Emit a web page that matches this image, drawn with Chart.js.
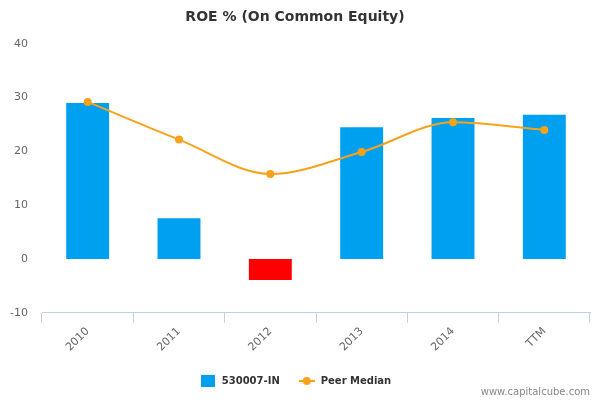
<!DOCTYPE html>
<html>
<head>
<meta charset="utf-8">
<script src="https://cdn.jsdelivr.net/npm/chart.js@4/dist/chart.umd.min.js"></script>
<style>
html,body{margin:0;padding:0;background:#fff;}
#wrap{position:relative;width:600px;height:400px;}
</style>
</head>
<body>
<div id="wrap"><canvas id="c" width="600" height="400"></canvas></div>
<script>
const categories = ['2010', '2011', '2012', '2013', '2014', 'TTM'];
const companyValues = [29.0, 7.6, -3.9, 24.5, 26.2, 26.8];
const peerMedian = [29.2, 22.2, 15.8, 19.9, 25.4, 24.0];
const yTicks = [-10, 0, 10, 20, 30, 40];

const blue = '#00a0f0';
const red = '#ff0000';
const orange = '#f8a21c';

// legend symbol for line series
const lineSym = document.createElement('canvas');
lineSym.width = 16; lineSym.height = 10;
(function(){
  const g = lineSym.getContext('2d');
  g.strokeStyle = orange; g.lineWidth = 2;
  g.beginPath(); g.moveTo(0,5); g.lineTo(16,5); g.stroke();
  g.fillStyle = orange; g.beginPath(); g.arc(8,5,4,0,Math.PI*2); g.fill();
})();
const boxSym = document.createElement('canvas');
boxSym.width = 14; boxSym.height = 12;
(function(){
  const g = boxSym.getContext('2d');
  g.fillStyle = blue; g.fillRect(0,0,14,12);
})();

const watermark = {
  id: 'watermark',
  afterDraw(chart) {
    const ctx = chart.ctx;
    ctx.save();
    ctx.font = '10px "DejaVu Sans", sans-serif';
    ctx.fillStyle = '#888';
    ctx.textAlign = 'right';
    ctx.textBaseline = 'middle';
    ctx.fillText('www.capitalcube.com', 590, 392);
    ctx.restore();
  }
};

new Chart(document.getElementById('c'), {
  type: 'bar',
  data: {
    labels: categories,
    datasets: [
      {
        type: 'line',
        label: 'Peer Median',
        data: peerMedian,
        borderColor: orange,
        backgroundColor: orange,
        borderWidth: 2,
        pointRadius: 4,
        pointHoverRadius: 4,
        pointBackgroundColor: orange,
        pointBorderWidth: 0,
        tension: 0.4,
        cubicInterpolationMode: 'monotone',
        pointStyle: 'circle',
        order: 0
      },
      {
        label: '530007-IN',
        data: companyValues,
        backgroundColor: companyValues.map(v => v < 0 ? red : blue),
        barPercentage: 0.47,
        categoryPercentage: 1.0,
        order: 1
      }
    ]
  },
  options: {
    responsive: false,
    animation: false,
    layout: { padding: { left: 0, right: 10, top: 0, bottom: 4 } },
    plugins: {
      title: {
        display: true,
        text: 'ROE % (On Common Equity)',
        color: '#333',
        font: { family: '"DejaVu Sans", sans-serif', size: 14, weight: 'bold' },
        padding: { top: 9, bottom: 18 }
      },
      legend: {
        position: 'bottom',
        labels: {
          usePointStyle: true,
          pointStyleWidth: 18,
          color: '#333',
          font: { family: '"DejaVu Sans", sans-serif', size: 10, weight: 'bold' },
          padding: 18,
          generateLabels(chart) {
            return [
              { text: '530007-IN', pointStyle: boxSym, datasetIndex: 1, fontColor: '#333', lineWidth: 0, strokeStyle: 'transparent', fillStyle: blue },
              { text: 'Peer Median', pointStyle: lineSym, datasetIndex: 0, fontColor: '#333', lineWidth: 0, strokeStyle: 'transparent', fillStyle: orange }
            ];
          }
        }
      },
      tooltip: { enabled: false }
    },
    scales: {
      x: {
        offset: true,
        afterFit(axis) { axis.height += 2; },
        grid: {
          offset: true,
          display: true,
          drawOnChartArea: false,
          drawTicks: true,
          tickLength: 10,
          color: '#c0d0e0'
        },
        border: { display: true, color: '#c0d0e0', width: 1 },
        ticks: {
          color: '#666',
          font: { family: '"DejaVu Sans", sans-serif', size: 11 },
          maxRotation: 45,
          minRotation: 45,
          padding: 2
        }
      },
      y: {
        min: -10,
        max: 40,
        afterBuildTicks(axis) { axis.ticks = yTicks.map(v => ({ value: v })); },
        afterFit(axis) { axis.width = 42; },
        grid: { display: false },
        border: { display: false },
        ticks: {
          color: '#666',
          font: { family: '"DejaVu Sans", sans-serif', size: 11 },
          padding: 6
        }
      }
    }
  },
  plugins: [watermark]
});
</script>
</body>
</html>
